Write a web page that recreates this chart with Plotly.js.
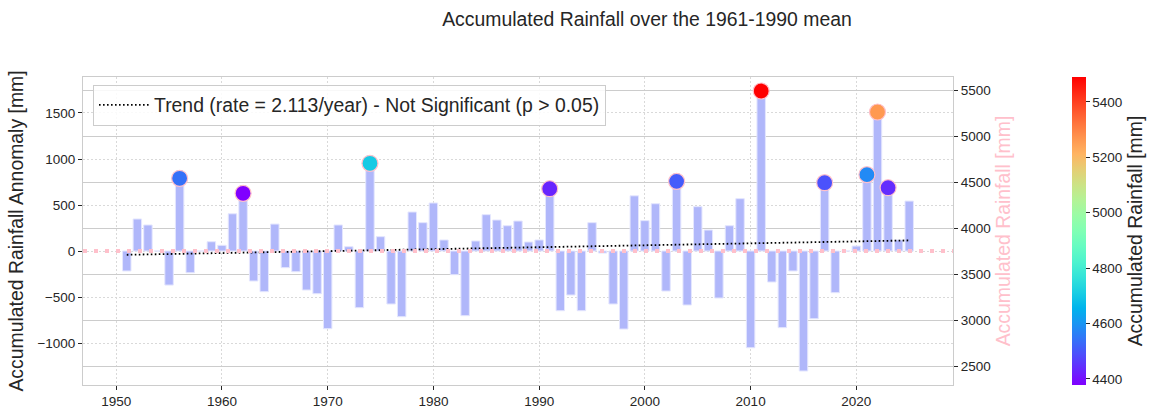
<!DOCTYPE html>
<html>
<head>
<meta charset="utf-8">
<script src="https://cdn.plot.ly/plotly-3.0.1.min.js"></script>
<style>html,body{margin:0;padding:0;background:#fff;}#chart{width:1160px;height:417px;}</style>
</head>
<body>
<div id="chart"></div>
<script>
// ---- data ----
const years = [1951,1952,1953,1954,1955,1956,1957,1958,1959,1960,
               1961,1962,1963,1964,1965,1966,1967,1968,1969,1970,
               1971,1972,1973,1974,1975,1976,1977,1978,1979,1980,
               1981,1982,1983,1984,1985,1986,1987,1988,1989,1990,
               1991,1992,1993,1994,1995,1996,1997,1998,1999,2000,
               2001,2002,2003,2004,2005,2006,2007,2008,2009,2010,
               2011,2012,2013,2014,2015,2016,2017,2018,2019,2020,
               2021,2022,2023,2024,2025];
const anomaly = [-217, 348, 283, 0, -370, 790, -236, 0, 101, 62,
                 405, 627, -326, -442, 293, -181, -225, -424, -464, -844,
                 283, 47, -616, 953, 156, -576, -714, 424, 308, 522,
                 120, -257, -703, 109, 395, 337, 275, 326, 98, 120,
                 677, -649, -478, -649, 308, -22, -576, -848, 600, 330,
                 514, -435, 757, -587, 482, 228, -511, 275, 569, -1051,
                 1739, -337, -833, -217, -1304, -736, 743, -453, 0, 54,
                 830, 1511, 688, 120, 543];
const meanRainfall = 3751;           // 1961-1990 mean [mm]
const highlightYears = [1956, 1962, 1974, 1991, 2003, 2011, 2017, 2021, 2022, 2023];
const trendYears = [1951, 2025];
const trendValues = [-41, 115];
const trendLabel = 'Trend (rate = 2.113/year) - Not Significant (p > 0.05)';
const colorbarTicks = [4400, 4600, 4800, 5000, 5200, 5400];
const rightTicks = [2500, 3000, 3500, 4000, 4500, 5000, 5500];
const leftTicks = [-1000, -500, 0, 500, 1000, 1500];
const xTicks = [1950, 1960, 1970, 1980, 1990, 2000, 2010, 2020];

// ---- derived ----
const hlAnom = highlightYears.map(y => anomaly[years.indexOf(y)]);
const hlTotal = hlAnom.map(a => a + meanRainfall);
const cmin = Math.min(...hlTotal), cmax = Math.max(...hlTotal);

// matplotlib "rainbow" colormap
const rainbow = [];
for (let i = 0; i <= 20; i++) {
  const t = i / 20;
  const r = Math.min(1, Math.abs(2 * t - 0.5));
  const g = Math.sin(Math.PI * t);
  const b = Math.cos(Math.PI * t / 2);
  rainbow.push([t, `rgb(${Math.round(r*255)},${Math.round(Math.max(0,g)*255)},${Math.round(Math.max(0,b)*255)})`]);
}

const minA = Math.min(...anomaly), maxA = Math.max(...anomaly);
const pad = 0.05 * (maxA - minA);
const yr = [minA - pad, maxA + pad];
const xmin = years[0] - 0.4, xmax = years[years.length - 1] + 0.4;
const xpad = 0.05 * (xmax - xmin);

const FONT = '"Liberation Sans", Arial, Helvetica, sans-serif';
const TXT = '#262626';

const traces = [
  {
    type: 'bar', x: years, y: anomaly, width: 0.8,
    marker: {color: 'rgb(176,183,250)', line: {color: 'rgb(228,230,254)', width: 1}},
    showlegend: false, hoverinfo: 'x+y'
  },
  {
    type: 'scatter', mode: 'lines', x: trendYears, y: trendValues,
    line: {color: '#000', width: 1.8, dash: '1.6px,2.4px'},
    name: trendLabel, showlegend: true
  },
  {
    type: 'scatter', mode: 'markers', x: highlightYears, y: hlAnom,
    marker: {
      size: 16, color: hlTotal, colorscale: rainbow, cmin: cmin, cmax: cmax,
      line: {color: '#ffc0cb', width: 1.2},
      showscale: true,
      colorbar: {
        xref: 'container', x: 1072/1160, xanchor: 'left', xpad: 0,
        yref: 'paper', y: 0.5, yanchor: 'middle', ypad: 0,
        len: 308, lenmode: 'pixels', thickness: 14,
        outlinewidth: 0,
        tickvals: colorbarTicks, ticks: 'outside', ticklen: 4, tickcolor: TXT,
        tickfont: {size: 13.5, color: TXT, family: FONT},
        title: {text: 'Accumulated Rainfall [mm]', side: 'right', font: {size: 19.4, color: TXT, family: FONT}}
      }
    },
    showlegend: false
  },
  {
    type: 'scatter', mode: 'lines', x: [xmin - xpad, xmax + xpad], y: [meanRainfall, meanRainfall],
    yaxis: 'y2', line: {color: 'rgba(0,0,0,0)'}, showlegend: false, hoverinfo: 'skip'
  }
];

const layout = {
  width: 1160, height: 417,
  margin: {l: 83, r: 207, t: 76.5, b: 32, pad: 0, autoexpand: false},
  paper_bgcolor: '#fff', plot_bgcolor: '#fff',
  font: {family: FONT, color: TXT},
  title: {
    text: 'Accumulated Rainfall over the 1961-1990 mean',
    xref: 'container', x: 647/1160, xanchor: 'center',
    yref: 'container', y: 1 - 19/417, yanchor: 'middle',
    font: {size: 19.4, color: TXT, family: FONT}
  },
  xaxis: {
    range: [xmin - xpad, xmax + xpad], tickvals: xTicks,
    showgrid: true, gridcolor: '#d9d9d9', griddash: '1.5px,2.5px', gridwidth: 1,
    zeroline: false, showline: true, mirror: true, linecolor: '#cccccc', linewidth: 1,
    ticks: 'outside', ticklen: 4, tickcolor: TXT,
    tickfont: {size: 13.5, color: TXT, family: FONT}
  },
  yaxis: {
    range: yr, tickvals: leftTicks,
    showgrid: true, gridcolor: '#d9d9d9', griddash: '1.5px,2.5px', gridwidth: 1,
    zeroline: false, showline: true, mirror: true, linecolor: '#cccccc', linewidth: 1,
    ticks: 'outside', ticklen: 4, tickcolor: TXT,
    tickfont: {size: 13.5, color: TXT, family: FONT},
    title: {text: 'Accumulated Rainfall Annomaly [mm]', font: {size: 19.4, color: TXT, family: FONT}, standoff: 8}
  },
  yaxis2: {
    overlaying: 'y', side: 'right',
    range: [yr[0] + meanRainfall, yr[1] + meanRainfall], tickvals: rightTicks,
    showgrid: true, gridcolor: '#cccccc', gridwidth: 1,
    zeroline: false, showline: false,
    ticks: 'outside', ticklen: 4, tickcolor: TXT,
    tickfont: {size: 13.5, color: TXT, family: FONT},
    title: {text: 'Accumulated Rainfall [mm]', font: {size: 19.4, color: '#ffc0cb', family: FONT}, standoff: 6}
  },
  shapes: [{
    type: 'line', xref: 'paper', x0: 0, x1: 1, yref: 'y2', y0: meanRainfall, y1: meanRainfall,
    line: {color: '#ffc0cb', width: 4, dash: '4px,7px'}, layer: 'above'
  }],
  legend: {
    x: 0.0115, y: 0.975, xanchor: 'left', yanchor: 'top',
    bgcolor: 'rgba(255,255,255,0.85)', bordercolor: '#cccccc', borderwidth: 1,
    font: {size: 19.4, color: TXT, family: FONT},
    itemwidth: 50
  },
  bargap: 0
};

Plotly.newPlot('chart', traces, layout, {staticPlot: true, displayModeBar: false});
</script>
</body>
</html>
